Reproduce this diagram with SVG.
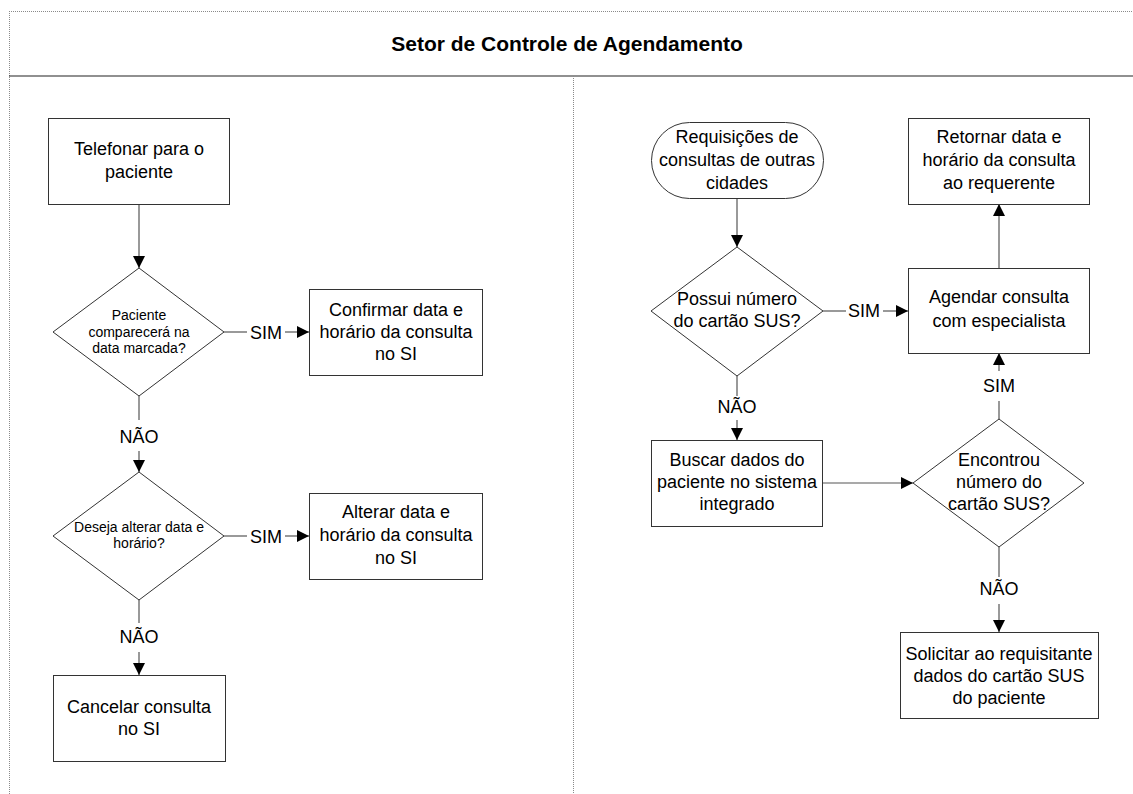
<svg xmlns="http://www.w3.org/2000/svg" width="1133" height="794" viewBox="0 0 1133 794">
  <style>
    .frame { fill: none; stroke: #8a8a8a; stroke-width: 1; stroke-dasharray: 1 1; }
    .hdr { stroke: #222; stroke-width: 1.2; }
    .shape { fill: #fff; stroke: #333; stroke-width: 1; }
    .conn { fill: none; stroke: #555; stroke-width: 1.2; }
    text { font-family: "Liberation Sans", Arial, sans-serif; fill: #000; }
    .t { font-size: 18px; text-anchor: middle; }
    .s { font-size: 14px; text-anchor: middle; }
    .title { font-size: 21px; font-weight: bold; text-anchor: middle; }
  </style>
  <defs>
    <marker id="arrow" markerUnits="userSpaceOnUse" markerWidth="13" markerHeight="13" refX="12" refY="6" orient="auto">
      <path d="M0,0 L12,6 L0,12 Z" fill="#000"/>
    </marker>
  </defs>

  <rect width="1133" height="794" fill="#fff"/>

  <!-- swimlane frame -->
  <g id="lane">
    <line class="frame" x1="9" y1="11.5" x2="1133" y2="11.5"/>
    <line class="frame" x1="9.5" y1="11" x2="9.5" y2="794"/>
    <line class="hdr" x1="9" y1="76" x2="1133" y2="76"/>
    <line class="frame" x1="573.5" y1="76" x2="573.5" y2="794"/>
    <text class="title" x="567" y="51">Setor de Controle de Agendamento</text>
  </g>

  <!-- connectors -->
  <g id="connectors">
    <line class="conn" x1="139" y1="204" x2="139" y2="268" marker-end="url(#arrow)"/>
    <line class="conn" x1="224" y1="332" x2="247" y2="332"/>
    <line class="conn" x1="285" y1="332" x2="309" y2="332" marker-end="url(#arrow)"/>
    <line class="conn" x1="139" y1="396" x2="139" y2="420"/>
    <line class="conn" x1="139" y1="451" x2="139" y2="472" marker-end="url(#arrow)"/>
    <line class="conn" x1="224" y1="536" x2="247" y2="536"/>
    <line class="conn" x1="285" y1="536" x2="309" y2="536" marker-end="url(#arrow)"/>
    <line class="conn" x1="139" y1="600" x2="139" y2="623"/>
    <line class="conn" x1="139" y1="652" x2="139" y2="675" marker-end="url(#arrow)"/>

    <line class="conn" x1="737" y1="198" x2="737" y2="247" marker-end="url(#arrow)"/>
    <line class="conn" x1="823" y1="311" x2="846" y2="311"/>
    <line class="conn" x1="883" y1="311" x2="908" y2="311" marker-end="url(#arrow)"/>
    <line class="conn" x1="737" y1="376" x2="737" y2="396"/>
    <line class="conn" x1="737" y1="420" x2="737" y2="440" marker-end="url(#arrow)"/>
    <line class="conn" x1="822" y1="483" x2="913" y2="483" marker-end="url(#arrow)"/>
    <line class="conn" x1="999" y1="419" x2="999" y2="401"/>
    <line class="conn" x1="999" y1="371" x2="999" y2="353" marker-end="url(#arrow)"/>
    <line class="conn" x1="999" y1="268" x2="999" y2="204" marker-end="url(#arrow)"/>
    <line class="conn" x1="999" y1="547" x2="999" y2="577"/>
    <line class="conn" x1="999" y1="604" x2="999" y2="632" marker-end="url(#arrow)"/>

    <text class="t" x="266" y="339">SIM</text>
    <text class="t" x="139" y="443">NÃO</text>
    <text class="t" x="266" y="543">SIM</text>
    <text class="t" x="139" y="643">NÃO</text>
    <text class="t" x="864" y="317">SIM</text>
    <text class="t" x="737" y="413">NÃO</text>
    <text class="t" x="999" y="392">SIM</text>
    <text class="t" x="999" y="595">NÃO</text>
  </g>

  <!-- left lane -->
  <g id="telefonar">
    <rect class="shape" x="48.5" y="118.5" width="181" height="86"/>
    <text class="t" x="139" y="155">Telefonar para o</text>
    <text class="t" x="139" y="178">paciente</text>
  </g>
  <g id="comparecera">
    <polygon class="shape" points="139,268 224,332 139,396 53,332"/>
    <text class="s" x="139" y="320">Paciente</text>
    <text class="s" x="139" y="337">comparecerá na</text>
    <text class="s" x="139" y="353">data marcada?</text>
  </g>
  <g id="confirmar">
    <rect class="shape" x="309.5" y="289.5" width="173" height="86"/>
    <text class="t" x="396" y="316">Confirmar data e</text>
    <text class="t" x="396" y="338">horário da consulta</text>
    <text class="t" x="396" y="360">no SI</text>
  </g>
  <g id="alterar-decisao">
    <polygon class="shape" points="139,472 224,536 139,600 53,536"/>
    <text class="s" x="139" y="532">Deseja alterar data e</text>
    <text class="s" x="139" y="548">horário?</text>
  </g>
  <g id="alterar">
    <rect class="shape" x="309.5" y="493.5" width="173" height="86"/>
    <text class="t" x="396" y="518">Alterar data e</text>
    <text class="t" x="396" y="541">horário da consulta</text>
    <text class="t" x="396" y="564">no SI</text>
  </g>
  <g id="cancelar">
    <rect class="shape" x="53.5" y="675.5" width="172" height="86"/>
    <text class="t" x="139" y="713">Cancelar consulta</text>
    <text class="t" x="139" y="735">no SI</text>
  </g>

  <!-- right lane -->
  <g id="requisicoes">
    <rect class="shape" x="651.5" y="122.5" width="172" height="76" rx="38" ry="38"/>
    <text class="t" x="737" y="143">Requisições de</text>
    <text class="t" x="737" y="166">consultas de outras</text>
    <text class="t" x="737" y="189">cidades</text>
  </g>
  <g id="possui-cartao">
    <polygon class="shape" points="737,247 823,311 737,376 651,311"/>
    <text class="t" x="737" y="305">Possui número</text>
    <text class="t" x="737" y="327">do cartão SUS?</text>
  </g>
  <g id="retornar">
    <rect class="shape" x="908.5" y="118.5" width="181" height="86"/>
    <text class="t" x="999" y="143">Retornar data e</text>
    <text class="t" x="999" y="166">horário da consulta</text>
    <text class="t" x="999" y="189">ao requerente</text>
  </g>
  <g id="agendar">
    <rect class="shape" x="908.5" y="268.5" width="181" height="85"/>
    <text class="t" x="999" y="303">Agendar consulta</text>
    <text class="t" x="999" y="327">com especialista</text>
  </g>
  <g id="buscar">
    <rect class="shape" x="651.5" y="440.5" width="171" height="86"/>
    <text class="t" x="737" y="466">Buscar dados do</text>
    <text class="t" x="737" y="488">paciente no sistema</text>
    <text class="t" x="737" y="510">integrado</text>
  </g>
  <g id="encontrou">
    <polygon class="shape" points="999,419 1084,483 999,547 913,483"/>
    <text class="t" x="999" y="466">Encontrou</text>
    <text class="t" x="999" y="488">número do</text>
    <text class="t" x="999" y="510">cartão SUS?</text>
  </g>
  <g id="solicitar">
    <rect class="shape" x="900.5" y="632.5" width="198" height="86"/>
    <text class="t" x="999" y="660">Solicitar ao requisitante</text>
    <text class="t" x="999" y="682">dados do cartão SUS</text>
    <text class="t" x="999" y="704">do paciente</text>
  </g>
</svg>
